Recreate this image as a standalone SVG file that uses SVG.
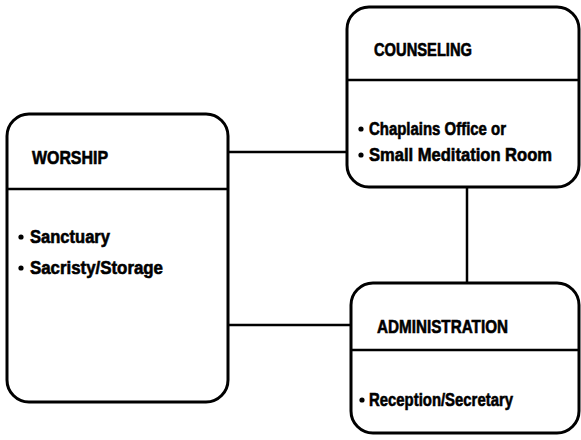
<svg xmlns="http://www.w3.org/2000/svg" width="581" height="440" viewBox="0 0 581 440">
<style>
.box{fill:#fff;stroke:#000;stroke-width:3}
.div{stroke:#000;stroke-width:2.5}
.con{stroke:#000;stroke-width:2.5;fill:none}
.t{font-family:"Liberation Sans",Arial,sans-serif;font-weight:bold;font-size:18px;fill:#000;stroke:#000;stroke-width:0.6}
.b{fill:#000}
</style>
<rect width="581" height="440" fill="#fff"/>
<g id="connectors">
<line class="con" x1="227" y1="152" x2="348" y2="152"/>
<line class="con" x1="227" y1="325" x2="352" y2="325"/>
<line class="con" x1="467" y1="186" x2="467" y2="283"/>
</g>
<g id="worship">
<rect class="box" x="7" y="114" width="221" height="288" rx="22"/>
<line class="div" x1="7" y1="189" x2="228" y2="189"/>
<text class="t" x="32" y="164" textLength="76" lengthAdjust="spacingAndGlyphs">WORSHIP</text>
<circle class="b" cx="21" cy="237" r="2.6"/>
<text class="t" x="30" y="243" textLength="80" lengthAdjust="spacingAndGlyphs">Sanctuary</text>
<circle class="b" cx="21" cy="268" r="2.6"/>
<text class="t" x="30" y="274" textLength="133" lengthAdjust="spacingAndGlyphs">Sacristy/Storage</text>
</g>
<g id="counseling">
<rect class="box" x="347" y="7" width="232" height="180" rx="22"/>
<line class="div" x1="347" y1="80" x2="579" y2="80"/>
<text class="t" x="374" y="56" textLength="98" lengthAdjust="spacingAndGlyphs">COUNSELING</text>
<circle class="b" cx="361" cy="129" r="2.6"/>
<text class="t" x="369" y="135" textLength="137" lengthAdjust="spacingAndGlyphs">Chaplains Office or</text>
<circle class="b" cx="361" cy="155" r="2.6"/>
<text class="t" x="369" y="161" textLength="183" lengthAdjust="spacingAndGlyphs">Small Meditation Room</text>
</g>
<g id="administration">
<rect class="box" x="351" y="283" width="228" height="150" rx="22"/>
<line class="div" x1="351" y1="350" x2="579" y2="350"/>
<text class="t" x="377" y="333" textLength="131" lengthAdjust="spacingAndGlyphs">ADMINISTRATION</text>
<circle class="b" cx="362" cy="400" r="2.6"/>
<text class="t" x="369" y="406" textLength="144" lengthAdjust="spacingAndGlyphs">Reception/Secretary</text>
</g>
</svg>
